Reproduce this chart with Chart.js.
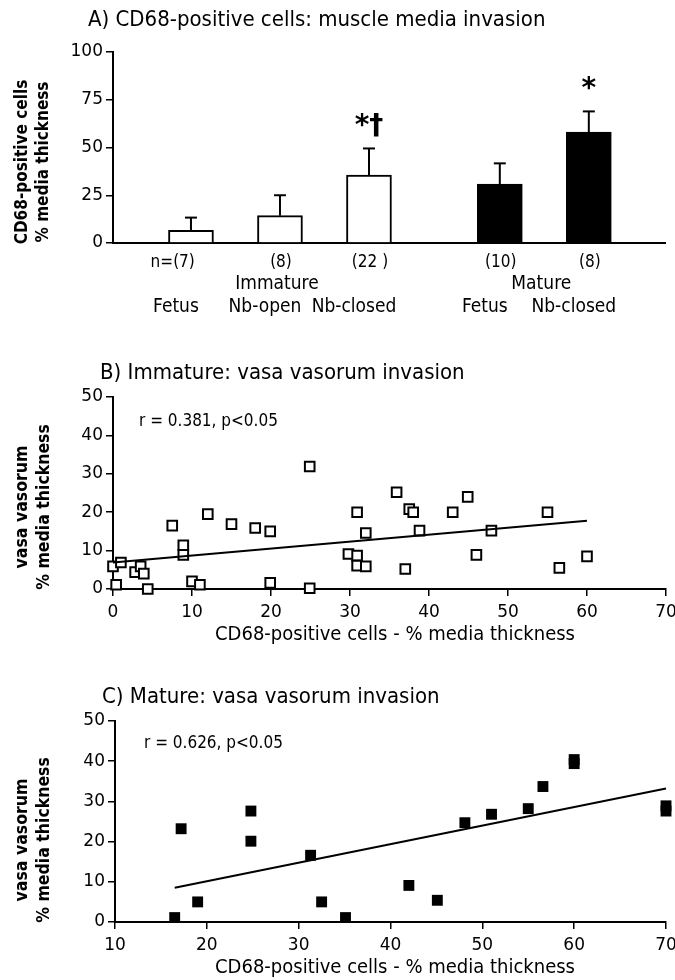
<!DOCTYPE html>
<html><head><meta charset="utf-8">
<script src="https://cdn.jsdelivr.net/npm/chart.js@4"></script>
<style>
html,body{margin:0;padding:0;background:#fff;}
.p{position:absolute;left:0;width:675px;}
</style></head>
<body>
<div class="p" style="top:0;height:325px"><canvas id="cA"></canvas></div>
<div class="p" style="top:330px;height:320px"><canvas id="cB"></canvas></div>
<div class="p" style="top:650px;height:330px"><canvas id="cC"></canvas></div>
<script>
// ---- Panel A data ----
const catsA = ['Fetus','Nb-open','Nb-closed','Fetus','Nb-closed'];
const groupsA = ['Immature','Immature','Immature','Mature','Mature'];
const nA = ['n=(7)','(8)','(22 )','(10)','(8)'];
const meanA = [6.6, 14.3, 35.6, 30.9, 58.1];
const semA = [6.7, 10.7, 13.9, 10.8, 10.8];
const sigA = ['', '', '*†', '', '*'];
const yTicksA = [0, 25, 50, 75, 100];

// ---- Panel B data ----
const bX = [0,0.4,1,2.8,3.5,3.9,4.4,7.5,8.9,8.9,10,11,12,15,18,19.9,19.9,24.9,24.9,29.8,30.9,30.9,30.9,32,32,35.9,37,37.5,38,38.8,43,44.9,46,47.9,55,56.5,60];
const bY = [5.9,1.1,6.9,4.4,5.9,4.0,0,16.5,11.4,8.9,2.0,1.1,19.5,16.9,15.9,15.0,1.6,31.9,0.2,9.1,20.0,8.7,6.1,14.6,5.9,25.2,5.2,20.8,20.0,15.2,20.0,24.0,8.9,15.2,20.0,5.5,8.5];
const bLineX = [0, 60];
const bLineY = [6.9, 17.8];
const bTicksX = [0,10,20,30,40,50,60,70];
const bTicksY = [0,10,20,30,40,50];

// ---- Panel C data ----
const cX = [16.5,17.2,19.0,24.8,24.8,31.3,32.5,35.1,42.0,45.1,48.1,51.0,55.0,56.6,60,60,70,70];
const cY = [1.1,23.2,5.0,27.6,20.1,16.6,5.0,1.1,9.1,5.4,24.7,26.8,28.2,33.7,39.4,40.4,27.6,28.9];
const cLineX = [16.5, 70];
const cLineY = [8.5, 33.2];
const cTicksX = [10,20,30,40,50,60,70];
const cTicksY = [0,10,20,30,40,50];

const FONT = "'DejaVu Sans Condensed', 'DejaVu Sans', sans-serif";
const NUMFONT = "'DejaVu Sans', sans-serif";
Chart.defaults.color = '#000';
Chart.defaults.animation = false;

function yTitle(ctx, lines, xs, cy, font){
  ctx.save();
  ctx.font = font; ctx.fillStyle = '#000';
  ctx.textAlign = 'center'; ctx.textBaseline = 'middle';
  lines.forEach((t,i)=>{
    ctx.save(); ctx.translate(xs[i], cy); ctx.rotate(-Math.PI/2); ctx.fillText(t, 0, 0); ctx.restore();
  });
  ctx.restore();
}
function axisCommon(ticksArr, min, max, pad){
  return {
    type:'linear', min, max,
    afterBuildTicks: s => { s.ticks = ticksArr.map(v=>({value:v})); },
    grid:{display:true, drawOnChartArea:false, drawTicks:true, tickLength:7, color:'#000', lineWidth:1.5},
    border:{display:true, color:'#000', width:2},
    ticks:{font:{family:NUMFONT, size:17}, color:'#000', padding:pad, autoSkip:false, maxRotation:0}
  };
}

// ---- Chart A ----
const posA = catsA.map((c,i)=> i + 1 + (groupsA[i]==='Mature' ? 0.47 : 0));
const textA = {
  id:'textA',
  afterDraw(chart){
    const ctx = chart.ctx, xs = chart.scales.x, ys = chart.scales.y;
    ctx.save();
    ctx.fillStyle='#000'; ctx.strokeStyle='#000';
    ctx.lineWidth = 2;
    meanA.forEach((m,i)=>{
      const x = xs.getPixelForValue(posA[i]);
      const y0 = ys.getPixelForValue(m), y1 = ys.getPixelForValue(m+semA[i]);
      ctx.beginPath(); ctx.moveTo(x, y0); ctx.lineTo(x, y1); ctx.stroke();
      ctx.beginPath(); ctx.moveTo(x-6, y1); ctx.lineTo(x+6, y1); ctx.stroke();
      if (sigA[i]) {
        ctx.font = "bold 28px " + NUMFONT; ctx.textAlign='center'; ctx.textBaseline='middle';
        ctx.fillText(sigA[i], x, y1 - 22);
      }
    });
    ctx.font = "22px " + FONT; ctx.textAlign='left'; ctx.textBaseline='middle';
    ctx.fillText('A) CD68-positive cells: muscle media invasion', 88, 20);
    ctx.font = "17px " + FONT; ctx.textAlign='center';
    nA.forEach((t,i)=>{
      const x = xs.getPixelForValue(posA[i]) + 1;
      if (t.startsWith('n=')) {
        const rest = t.slice(2);
        ctx.textAlign='right';
        ctx.fillText(t, x - 8 + ctx.measureText(rest).width/2, 263);
        ctx.textAlign='center';
      } else ctx.fillText(t, x, 263);
    });
    ctx.font = "19px " + FONT;
    ['Immature','Mature'].forEach(g=>{
      const p = posA.filter((v,i)=>groupsA[i]===g);
      const mid = (xs.getPixelForValue(p[0]) + xs.getPixelForValue(p[p.length-1]))/2;
      ctx.fillText(g, mid - 3, 284);
    });
    catsA.forEach((t,i)=>{
      ctx.fillText(t, xs.getPixelForValue(posA[i]) - 15, 307);
    });
    ctx.restore();
    yTitle(ctx, ['CD68-positive cells','% media thickness'], [23, 44], 162, "bold 17px " + FONT);
  }
};
new Chart(document.getElementById('cA'), {
  type:'bar',
  data:{datasets:[{
    data: meanA.map((m,i)=>({x:posA[i], y:m})),
    backgroundColor: groupsA.map(g=> g==='Mature' ? '#000' : '#fff'),
    borderColor:'#000', borderWidth:2, barThickness:45, borderSkipped:'start'
  }]},
  options:{
    responsive:true, maintainAspectRatio:false, devicePixelRatio:1,
    layout:{padding:{top:52, right:10, left:0, bottom:0}},
    plugins:{legend:{display:false}, tooltip:{enabled:false}},
    scales:{
      x:{type:'linear', offset:false, min:0.124, max:6.326, grid:{display:false}, ticks:{display:false},
         border:{display:true, color:'#000', width:2}, afterFit: s=>{ s.height = 82; }},
      y:Object.assign(axisCommon(yTicksA, 0, 100, 3), {afterFit: s=>{ s.width = 113; }})
    }
  },
  plugins:[textA]
});

// ---- scatter helper ----
function scatterPanel(id, xsArr, ysArr, lx, ly, filled, tX, tY, xmin, xmax, cfg){
  const txt = {
    id:'txt'+id,
    afterDraw(chart){
      const ctx = chart.ctx;
      ctx.save(); ctx.fillStyle='#000';
      ctx.font = "22px " + FONT; ctx.textAlign='left'; ctx.textBaseline='middle';
      ctx.fillText(cfg.title, cfg.titleX, cfg.titleY);
      ctx.font = "17px " + FONT;
      ctx.fillText(cfg.note, cfg.noteX, cfg.noteY);
      ctx.font = "20px " + FONT; ctx.textAlign='center';
      ctx.fillText('CD68-positive cells - % media thickness', 395, cfg.xTitleY);
      ctx.restore();
      yTitle(ctx, ['vasa vasorum','% media thickness'], [22, 44], cfg.yTitleY, "bold 17.5px " + FONT);
    }
  };
  return new Chart(document.getElementById(id), {
    type:'scatter',
    data:{datasets:[
      {type:'line', data: lx.map((v,i)=>({x:v, y:ly[i]})), borderColor:'#000', borderWidth:2, pointRadius:0, fill:false},
      {data: xsArr.map((v,i)=>({x:v, y:ysArr[i]})), pointStyle:'rect', pointRadius: filled?7.7:6.8,
       backgroundColor: filled?'#000':'#fff', borderColor:'#000', borderWidth: filled?0:2}
    ]},
    options:{
      responsive:true, maintainAspectRatio:false, devicePixelRatio:1,
      layout:{padding:{top:cfg.top, right:9, left:0, bottom:0}},
      clip:false,
      plugins:{legend:{display:false}, tooltip:{enabled:false}},
      scales:{
        x:Object.assign(axisCommon(tX, xmin, xmax, 6), {afterFit: s=>{ s.height = cfg.xh; s.paddingRight = 0; }}),
        y:Object.assign(axisCommon(tY, 0, 50, 3), {afterFit: s=>{ s.width = cfg.yw; s.paddingTop = 0; }})
      }
    },
    plugins:[txt]
  });
}
scatterPanel('cB', bX, bY, bLineX, bLineY, false, bTicksX, bTicksY, 0, 70,
  {top:67, xh:61, yw:113, title:'B) Immature: vasa vasorum invasion', titleX:100, titleY:43,
   note:'r = 0.381, p<0.05', noteX:139, noteY:92, xTitleY:305, yTitleY:177});
scatterPanel('cC', cX, cY, cLineX, cLineY, true, cTicksX, cTicksY, 10, 70,
  {top:71, xh:58, yw:115, title:'C) Mature: vasa vasorum invasion', titleX:102, titleY:47,
   note:'r = 0.626, p<0.05', noteX:144, noteY:94, xTitleY:318, yTitleY:190});
</script>
</body></html>
